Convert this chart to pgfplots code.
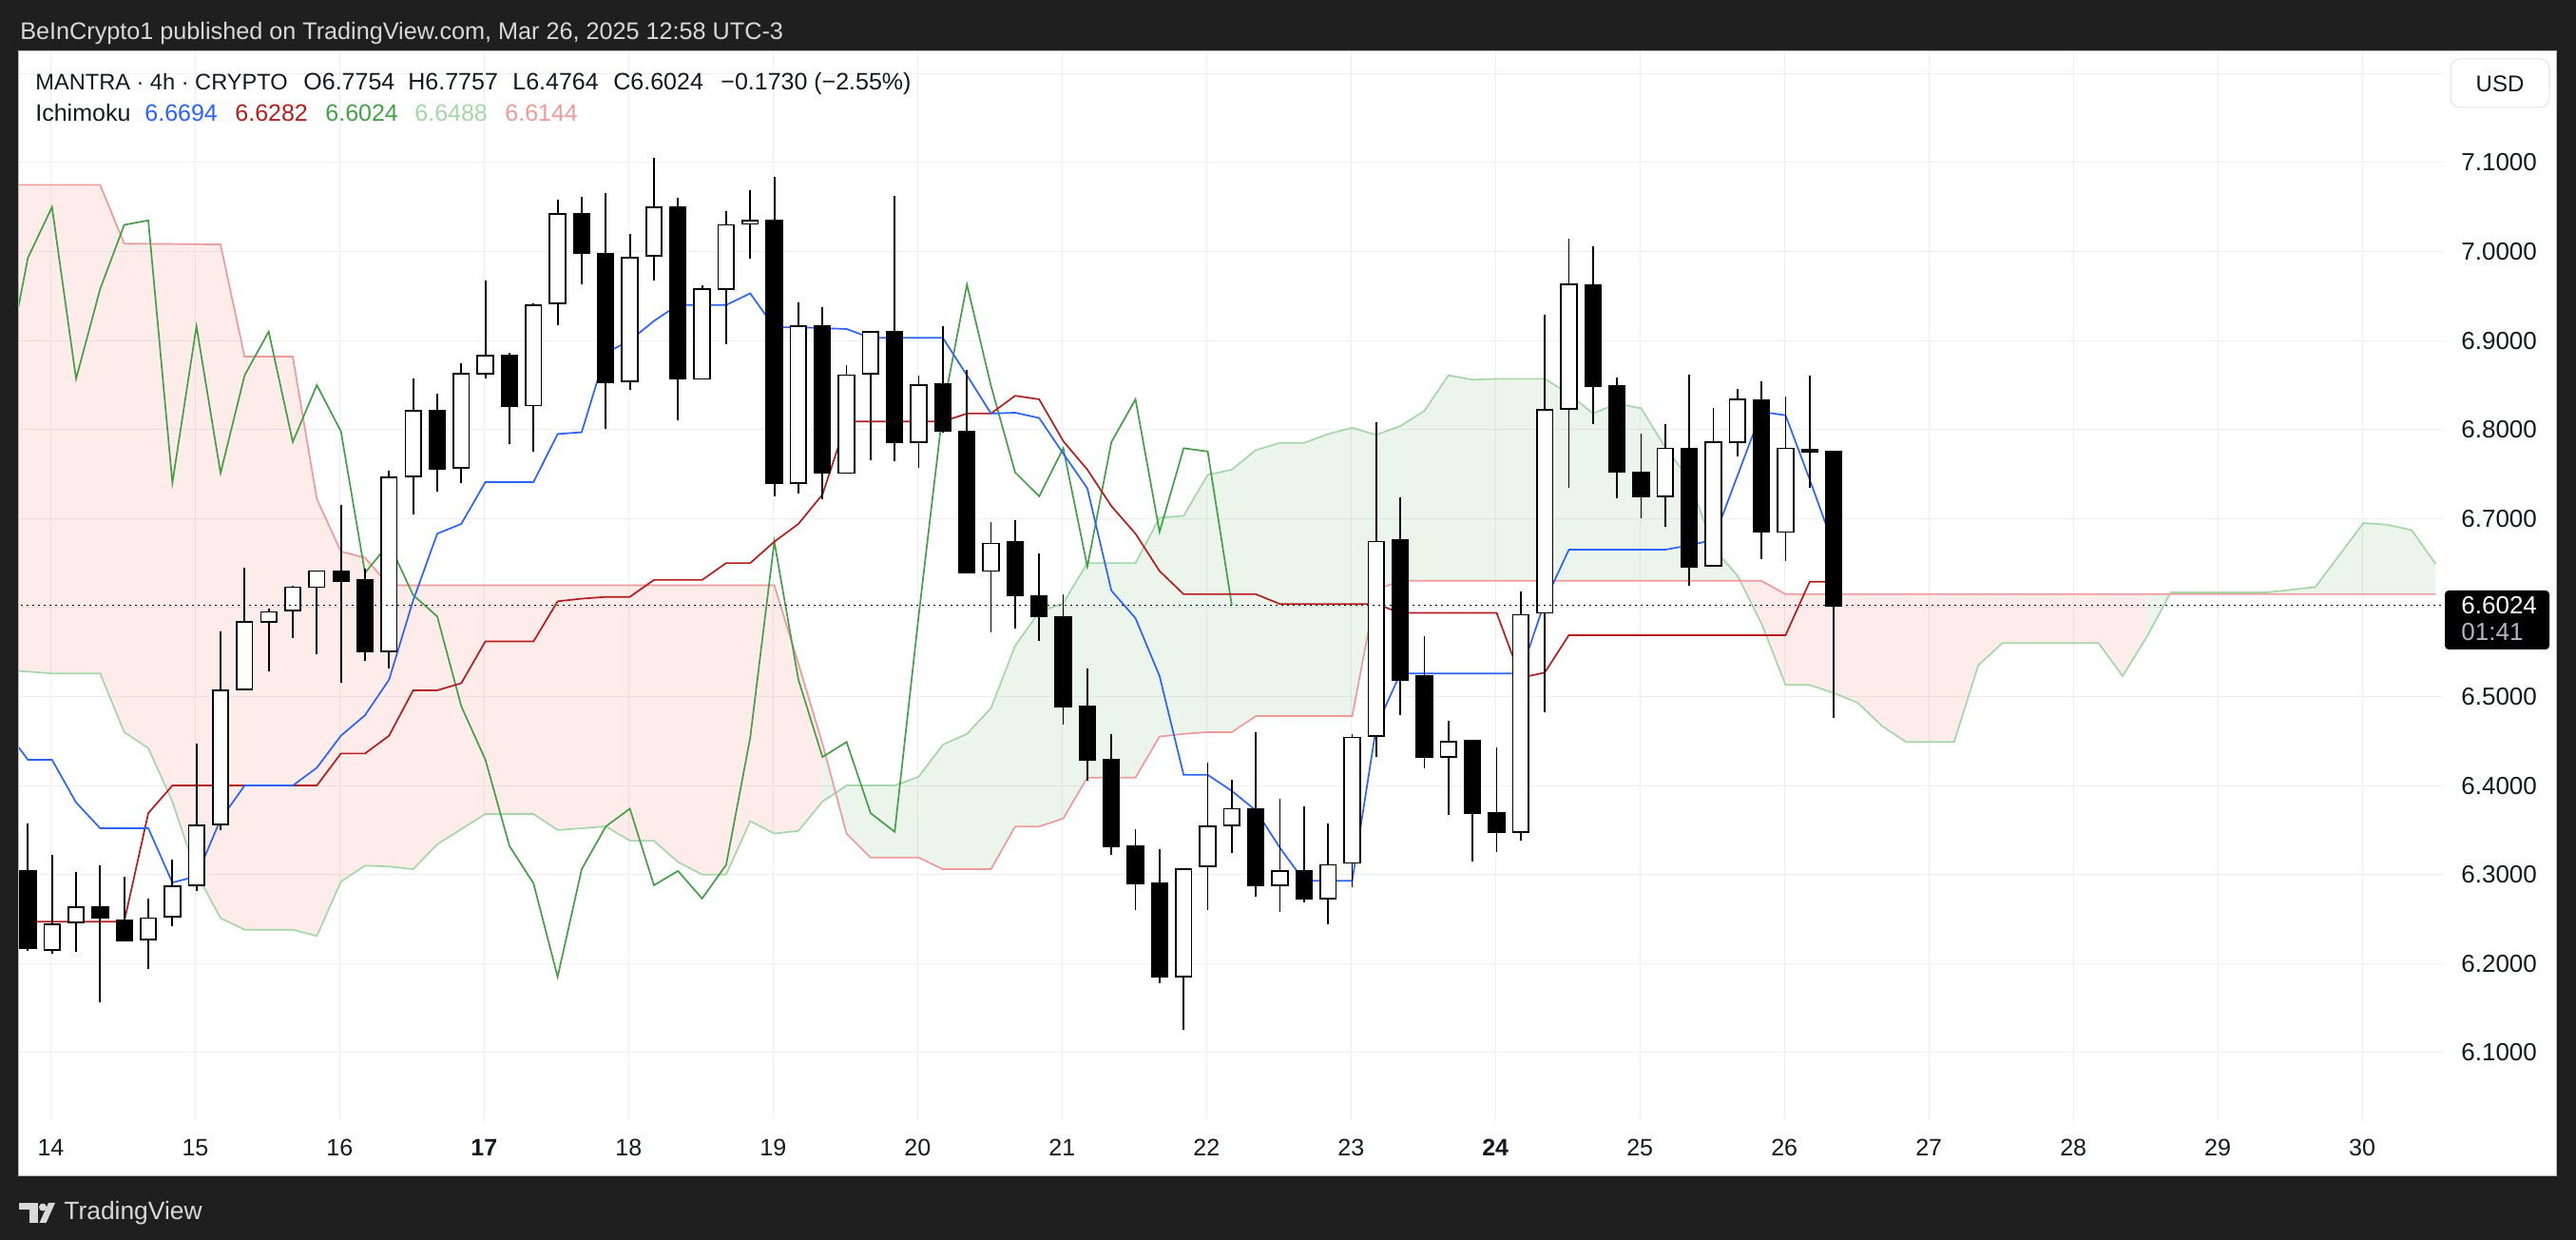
\documentclass[border=0pt]{standalone}
\usepackage{fontspec}
\setmainfont{Liberation Sans}
\usepackage{pgfplots}
\pgfplotsset{compat=1.18}
\usepackage{pgfplotstable}
\usepgfplotslibrary{fillbetween}

\definecolor{frame}{HTML}{1F1F1F}
\definecolor{hdr}{HTML}{D9D9D9}
\definecolor{ink}{HTML}{131722}
\definecolor{gridc}{HTML}{EEEFF2}
\definecolor{tenkan}{HTML}{2962FF}
\definecolor{kijun}{HTML}{B71C1C}
\definecolor{chikou}{HTML}{43A047}
\definecolor{spanA}{HTML}{A5D6A7}
\definecolor{spanB}{HTML}{EF9A9A}
\definecolor{cloudG}{HTML}{43A047}
\definecolor{cloudR}{HTML}{F44336}
\definecolor{boxline}{HTML}{E0E3EB}
\definecolor{cntdown}{HTML}{B2B5BE}

\newcommand\fs[1]{\fontsize{#1}{#1}\selectfont}

% MANTRA 4h bars, k = bar index (6 bars a day)
\pgfplotstableread{
k o h l c
0 6.304 6.357 6.214 6.217
1 6.215 6.322 6.211 6.244
2 6.246 6.303 6.213 6.263
3 6.263 6.310 6.156 6.251
4 6.249 6.298 6.226 6.226
5 6.227 6.273 6.194 6.251
6 6.253 6.317 6.242 6.287
7 6.288 6.447 6.282 6.355
8 6.356 6.573 6.350 6.507
9 6.508 6.645 6.508 6.584
10 6.584 6.599 6.528 6.595
11 6.597 6.625 6.566 6.623
12 6.623 6.642 6.548 6.641
13 6.641 6.715 6.515 6.630
14 6.631 6.644 6.540 6.551
15 6.551 6.754 6.531 6.746
16 6.747 6.857 6.705 6.821
17 6.821 6.840 6.730 6.756
18 6.757 6.874 6.740 6.863
19 6.863 6.967 6.857 6.883
20 6.883 6.886 6.784 6.826
21 6.827 6.942 6.775 6.940
22 6.942 7.058 6.917 7.042
23 7.042 7.062 6.963 6.998
24 6.998 7.066 6.801 6.853
25 6.854 7.020 6.845 6.993
26 6.995 7.105 6.967 7.050
27 7.050 7.060 6.810 6.857
28 6.857 6.962 6.857 6.958
29 6.958 7.045 6.896 7.030
30 7.031 7.069 6.992 7.035
31 7.035 7.084 6.725 6.740
32 6.740 6.943 6.728 6.916
33 6.916 6.938 6.722 6.751
34 6.751 6.872 6.751 6.861
35 6.863 6.911 6.766 6.910
36 6.910 7.063 6.764 6.786
37 6.786 6.861 6.757 6.850
38 6.851 6.916 6.796 6.798
39 6.798 6.867 6.639 6.639
40 6.641 6.696 6.572 6.672
41 6.674 6.698 6.576 6.614
42 6.613 6.661 6.562 6.590
43 6.589 6.615 6.468 6.489
44 6.489 6.532 6.405 6.429
45 6.429 6.458 6.322 6.332
46 6.332 6.351 6.260 6.290
47 6.290 6.329 6.178 6.185
48 6.185 6.306 6.125 6.306
49 6.309 6.426 6.260 6.354
50 6.355 6.406 6.324 6.374
51 6.374 6.460 6.275 6.288
52 6.288 6.385 6.258 6.304
53 6.304 6.377 6.269 6.273
54 6.273 6.357 6.244 6.311
55 6.313 6.458 6.286 6.454
56 6.456 6.808 6.432 6.674
57 6.676 6.724 6.479 6.519
58 6.523 6.568 6.419 6.432
59 6.432 6.473 6.367 6.449
60 6.450 6.451 6.315 6.369
61 6.369 6.443 6.325 6.348
62 6.348 6.618 6.338 6.592
63 6.594 6.929 6.482 6.822
64 6.823 7.014 6.735 6.963
65 6.962 7.006 6.806 6.849
66 6.849 6.859 6.723 6.752
67 6.752 6.795 6.700 6.725
68 6.725 6.806 6.691 6.779
69 6.779 6.862 6.625 6.646
70 6.647 6.824 6.647 6.786
71 6.786 6.846 6.770 6.834
72 6.833 6.854 6.654 6.685
73 6.685 6.837 6.652 6.779
74 6.777 6.861 6.735 6.7754
75 6.7754 6.7757 6.4764 6.6024
}\candles

\begin{document}
\begin{tikzpicture}
% dark frame as four strips, so nothing lies under the chart area
\begin{scope}[x=0.5pt,y=-0.5pt,shift={(0pt,652pt)}]
  \fill[frame] (0,0) rectangle (2710,53.5);
  \fill[frame] (0,1236.5) rectangle (2710,1304);
  \fill[frame] (0,53.5) rectangle (19.5,1236.5);
  \fill[frame] (2689.5,53.5) rectangle (2710,1236.5);
  \draw[gray!55, line width=0.5pt] (19.5,53.5) rectangle (2689.5,1236.5);
\end{scope}

\begin{axis}[
    at={(10pt,63pt)}, anchor=south west,
    width=1275pt, height=562pt, scale only axis,
    xmin=-0.37, xmax=100.3,
    ymin=6.024, ymax=7.225,
    axis line style={draw=none},
    major tick length=0pt,
    tick style={draw=none},
    grid=major,
    major grid style={gridc, line width=0.5pt},
    xtick={0.95,6.95,12.95,18.95,24.95,30.95,36.95,42.95,48.95,54.95,60.95,66.95,72.95,78.95,84.95,90.95,96.95},
    xticklabels={14,15,16,\textbf{17},18,19,20,21,22,23,\textbf{24},25,26,27,28,29,30},
    xticklabel style={font={\fs{12.5}}, text=ink, anchor=center, yshift=-14.5pt},
    ytick={6.1,6.2,6.3,6.4,6.5,6.6,6.7,6.8,6.9,7.0,7.1,7.2},
    yticklabels={6.1000,6.2000,6.3000,6.4000,6.5000,6.6000,6.7000,6.8000,6.9000,7.0000,7.1000,{}},
    yticklabel pos=right,
    yticklabel style={font={\fs{13}}, text=ink, anchor=west, inner sep=0pt, xshift=9.5pt},
]
% Senkou span A and B, shifted 25 bars ahead
\addplot[name path=A, spanA, line width=0.85pt] coordinates {
(-1,6.530) (0,6.528) (1,6.526) (2,6.526) (3,6.526) (4,6.460) (5,6.442) (6,6.382) (7,6.301) (8,6.251)
(9,6.238) (10,6.238) (11,6.238) (12,6.231) (13,6.292) (14,6.310) (15,6.309) (16,6.306) (17,6.334) (18,6.351)
(19,6.368) (20,6.368) (21,6.368) (22,6.350) (23,6.352) (24,6.354) (25,6.338) (26,6.338) (27,6.314) (28,6.300)
(29,6.300) (30,6.360) (31,6.346) (32,6.349) (33,6.382) (34,6.400) (35,6.400) (36,6.400) (37,6.410) (38,6.446)
(39,6.458) (40,6.487) (41,6.557) (42,6.595) (43,6.605) (44,6.650) (45,6.650) (46,6.650) (47,6.701) (48,6.703)
(49,6.749) (50,6.755) (51,6.777) (52,6.785) (53,6.785) (54,6.795) (55,6.802) (56,6.794) (57,6.804) (58,6.821)
(59,6.861) (60,6.856) (61,6.857) (62,6.857) (63,6.857) (64,6.840) (65,6.818) (66,6.829) (67,6.824) (68,6.780)
(69,6.744) (70,6.667) (71,6.636) (72,6.582) (73,6.513) (74,6.513) (75,6.504) (76,6.493) (77,6.467) (78,6.449)
(79,6.449) (80,6.449) (81,6.535) (82,6.560) (83,6.560) (84,6.560) (85,6.560) (86,6.560) (87,6.523) (88,6.567)
(89,6.617) (90,6.617) (91,6.617) (92,6.617) (93,6.617) (94,6.620) (95,6.623) (96,6.659) (97,6.695) (98,6.693)
(99,6.687) (100,6.649)};
\addplot[name path=B, spanB, line width=0.85pt] coordinates {
(-1,7.075) (3,7.075) (4,7.009) (8,7.008) (9,6.882) (11,6.882) (12,6.722) (13,6.663) (14,6.656) (15,6.625)
(31,6.625) (32,6.537) (33,6.447) (34,6.346) (35,6.319) (37,6.319) (38,6.306) (40,6.306) (41,6.354) (42,6.354)
(43,6.363) (44,6.409) (46,6.409) (47,6.455) (48,6.458) (49,6.460) (50,6.460) (51,6.478) (55,6.478) (56,6.620)
(57,6.630) (72,6.630) (73,6.615) (100,6.615)};
\addplot[cloudR, fill opacity=0.1] fill between[of=A and B, soft clip={domain=-1:33}];
\addplot[cloudG, fill opacity=0.1] fill between[of=A and B, soft clip={domain=33:71}];
\addplot[cloudR, fill opacity=0.1] fill between[of=A and B, soft clip={domain=71:88}];
\addplot[cloudG, fill opacity=0.1] fill between[of=A and B, soft clip={domain=88:100}];

% lagging span: closes drawn 25 bars back
\addplot[chikou, line width=0.85pt] table[x expr=\thisrow{k}-25, y=c] {\candles};
% base line
\addplot[kijun, line width=0.85pt] coordinates {
(-1,6.247) (4,6.247) (5,6.369) (6,6.400) (12,6.400) (13,6.436) (14,6.436) (15,6.456) (16,6.507) (17,6.507)
(18,6.515) (19,6.562) (21,6.562) (22,6.607) (23,6.610) (24,6.612) (25,6.612) (26,6.631) (28,6.631) (29,6.650)
(30,6.650) (31,6.674) (32,6.694) (33,6.727) (34,6.809) (38,6.809) (39,6.818) (40,6.818) (41,6.838) (42,6.834)
(43,6.787) (44,6.755) (45,6.714) (46,6.683) (47,6.641) (48,6.615) (51,6.615) (52,6.604) (56,6.604) (57,6.594)
(61,6.594) (62,6.521) (63,6.527) (64,6.569) (73,6.569) (74,6.629) (75,6.629)};
% conversion line
\addplot[tenkan, line width=0.85pt] coordinates {
(-1,6.465) (0,6.429) (1,6.429) (2,6.381) (3,6.352) (4,6.352) (5,6.352) (6,6.291) (7,6.298) (8,6.362)
(9,6.400) (10,6.400) (11,6.400) (12,6.420) (13,6.456) (14,6.479) (15,6.519) (16,6.608) (17,6.683) (18,6.694)
(19,6.741) (20,6.741) (21,6.741) (22,6.795) (23,6.797) (24,6.886) (25,6.900) (26,6.922) (27,6.940) (28,6.940)
(29,6.940) (30,6.953) (31,6.915) (32,6.915) (33,6.914) (34,6.913) (35,6.903) (36,6.903) (37,6.903) (38,6.903)
(39,6.861) (40,6.818) (41,6.819) (42,6.813) (43,6.773) (44,6.734) (45,6.619) (46,6.588) (47,6.523) (48,6.412)
(49,6.412) (50,6.394) (51,6.372) (52,6.330) (53,6.293) (54,6.293) (55,6.293) (56,6.466) (57,6.526) (58,6.526)
(59,6.526) (60,6.526) (61,6.526) (62,6.526) (63,6.607) (64,6.665) (65,6.665) (66,6.665) (67,6.665) (68,6.665)
(69,6.670) (70,6.676) (71,6.748) (72,6.820) (73,6.816) (74,6.744) (75,6.669)};

% candles: wicks, then bodies (black frame, white inside for rising bars)
\addplot[draw=none, mark=none, forget plot,
  error bars/.cd, y dir=plus, y explicit, error mark=none,
  error bar style={draw=black, line width=0.9pt}]
  table[x=k, y=l, y error plus expr=\thisrow{h}-\thisrow{l}] {\candles};
\addplot[draw=none, mark=none, forget plot,
  error bars/.cd, y dir=plus, y explicit, error mark=none,
  error bar style={draw=black, line width=9.15pt}]
  table[x=k, y expr={min(\thisrow{o},\thisrow{c})-0.0009},
        y error plus expr={abs(\thisrow{c}-\thisrow{o})+0.0018}] {\candles};
\addplot[draw=none, mark=none, forget plot,
  error bars/.cd, y dir=plus, y explicit, error mark=none,
  error bar style={draw=white, line width=7.45pt}]
  table[x=k, y expr={\thisrow{o}+0.0009},
        y error plus expr={max(\thisrow{c}-\thisrow{o}-0.0018,0)}] {\candles};

% last price
\addplot[black, line width=0.8pt, dash pattern=on 0.9pt off 2.1pt] coordinates {(-1,6.6024) (101,6.6024)};
\end{axis}

\begin{scope}[x=0.5pt,y=-0.5pt,shift={(0pt,652pt)}]
  \node[anchor=base west, inner sep=0, text=hdr, font={\fs{12.6}}] at (21,41.5)
    {BeInCrypto1 published on TradingView.com, Mar 26, 2025 12:58 UTC-3};
  \begin{scope}[every node/.style={anchor=base west, inner sep=0, font={\fs{12.5}}}]
    \node[text=ink, font={\fs{11.8}}] at (37,94.5) {MANTRA · 4h · CRYPTO};
    \node[text=ink] at (319,94.5) {O6.7754};
    \node[text=ink] at (429,94.5) {H6.7757};
    \node[text=ink] at (539,94.5) {L6.4764};
    \node[text=ink] at (645,94.5) {C6.6024};
    \node[text=ink] at (758,94.5) {−0.1730 (−2.55\%)};
    \node[text=ink] at (37,127.5) {Ichimoku};
    \node[text=tenkan] at (152,127.5) {6.6694};
    \node[text=kijun] at (247,127.5) {6.6282};
    \node[text=chikou] at (342,127.5) {6.6024};
    \node[text=spanA] at (436,127.5) {6.6488};
    \node[text=spanB] at (531,127.5) {6.6144};
  \end{scope}
  % price scale extras
  \draw[boxline, fill=white, line width=0.5pt, rounded corners=5pt] (2578,62) rectangle (2682,113);
  \node[text=ink, font={\fs{12}}] at (2630,88) {USD};
  \fill[black, rounded corners=2pt] (2572,621) rectangle (2682,683);
  \node[anchor=west, inner sep=0, text=white, font={\fs{13}}] at (2589,637) {6.6024};
  \node[anchor=west, inner sep=0, text=cntdown, font={\fs{13}}] at (2589,665) {01:41};
  % footer logo
  \fill[hdr] (20,1265) rectangle (40,1272);
  \fill[hdr] (30.5,1265) rectangle (40,1286);
  \fill[hdr] (45,1269.5) circle (4);
  \fill[hdr] (51,1265) -- (58,1265) -- (48.5,1286) -- (41.5,1286) -- cycle;
  \node[anchor=west, inner sep=0, text=hdr, font={\fs{13.2}}] at (67,1276) {TradingView};
\end{scope}
\pgfresetboundingbox
\path[use as bounding box] (0,0) rectangle (1355pt,652pt);
\end{tikzpicture}
\end{document}
